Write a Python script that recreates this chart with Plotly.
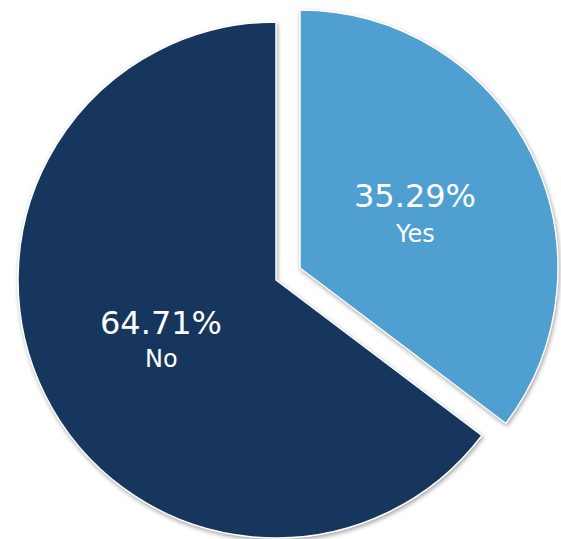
import plotly.graph_objects as go

labels = ["Yes", "No"]
values = [6, 11]
colors = ["#4F9FD1", "#17365D"]

total = sum(values)
pcts = [v / total * 100 for v in values]

W, H = 561, 539
R = 258  # pie radius in px
centers = {"No": (276, 280), "Yes": (300, 268)}
transparent = "rgba(0,0,0,0)"


def domain_for(cx, cy, r):
    half_w = min(cx, W - cx)
    return dict(x=[(cx - half_w) / W, (cx + half_w) / W],
                y=[1 - (cy + r) / H, 1 - (cy - r) / H])


fig = go.Figure()
for i, lab in enumerate(labels):
    cols = [colors[j] if j == i else transparent for j in range(len(labels))]
    lcols = ["white" if j == i else transparent for j in range(len(labels))]
    lw = [1.5 if j == i else 0 for j in range(len(labels))]
    cx, cy = centers[lab]
    fig.add_trace(go.Pie(
        labels=labels, values=values, sort=False, direction="clockwise",
        rotation=0,
        marker=dict(colors=cols, line=dict(color=lcols, width=lw)),
        textinfo="none", hoverinfo="label+percent",
        domain=domain_for(cx, cy, R),
        showlegend=False,
    ))

font_family = "DejaVu Sans"
text_pos = {"Yes": (415, 196, 234), "No": (161, 323, 359)}
annotations = []
for lab, p in zip(labels, pcts):
    x, y1, y2 = text_pos[lab]
    annotations.append(dict(x=x / W, y=1 - y1 / H, xref="paper", yref="paper",
                            text=f"{p:.2f}%", showarrow=False,
                            font=dict(family=font_family, size=32, color="white"),
                            xanchor="center", yanchor="middle"))
    annotations.append(dict(x=x / W, y=1 - y2 / H, xref="paper", yref="paper",
                            text=lab, showarrow=False,
                            font=dict(family=font_family, size=24, color="white"),
                            xanchor="center", yanchor="middle"))

fig.update_layout(
    width=W, height=H,
    margin=dict(l=0, r=0, t=0, b=0),
    paper_bgcolor="white", plot_bgcolor="white",
    annotations=annotations,
)

fig.write_html("out.html", config={"displayModeBar": False}, post_script="""
document.body.style.margin = '0';
document.querySelectorAll('.slice path.surface').forEach(function(p){
  p.style.filter = 'drop-shadow(1px 2px 2px rgba(0,0,0,0.35))';
});
""")
